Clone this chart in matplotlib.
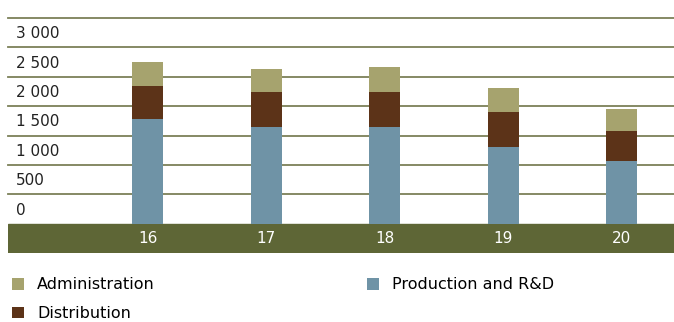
import numpy as np
import matplotlib.pyplot as plt

years = ["16", "17", "18", "19", "20"]
production = [1775, 1655, 1655, 1315, 1075]
distribution = [565, 580, 580, 580, 510]
administration = [410, 395, 425, 410, 375]
yticks = [0, 500, 1000, 1500, 2000, 2500, 3000]
ytick_labels = ["0", "500", "1 000", "1 500", "2 000", "2 500", "3 000"]

c_prod = "#6f93a6"
c_dist = "#5c3318"
c_admin = "#a6a36e"
c_band = "#5e6636"
c_grid = "#7c8058"

plt.rcParams["font.family"] = ["DejaVu Sans"]

W, H = 674, 322
fig = plt.figure(figsize=(W / 100, H / 100), dpi=100)
# axes from x=8 to 674, y=18 (3500) down to 253 (band bottom)
ax = fig.add_axes([8 / W, (H - 253) / H, (W - 8) / W, (253 - 18) / H])

x = np.arange(len(years))
band = -495
ax.set_xlim(-1.18, 4.44)
ax.set_ylim(band, 3500)
ax.axis("off")

ax.axhspan(band, 0, color=c_band, zorder=1)
for v in range(500, 4000, 500):
    ax.axhline(v, color=c_grid, lw=1.3, zorder=1, clip_on=False)

w = 0.26
b1 = ax.bar(x, production, w, color=c_prod, zorder=3, label="Production and R&D")
bottom2 = np.array(production)
b2 = ax.bar(x, distribution, w, bottom=bottom2, color=c_dist, zorder=3, label="Distribution")
bottom3 = bottom2 + np.array(distribution)
b3 = ax.bar(x, administration, w, bottom=bottom3, color=c_admin, zorder=3, label="Administration")

for xi, lab in zip(x, years):
    ax.text(xi, band / 2, lab, color="white", ha="center", va="center", fontsize=11, zorder=4)

for v, lab in zip(yticks, ytick_labels):
    ax.text(-1.18 + 0.07, v + 235, lab, color="#222222", ha="left", va="center", fontsize=11, zorder=4)

fig.legend(handles=[b3, b2, b1], labels=["Administration", "Distribution", "Production and R&D"],
           ncol=2, loc="upper left", bbox_to_anchor=(6 / W, (H - 271) / H),
           frameon=False, fontsize=11.5, handlelength=0.75, handleheight=0.75,
           handletextpad=0.8, columnspacing=13.3, labelspacing=0.85, borderaxespad=0)

fig.savefig("out.png", dpi=100)
